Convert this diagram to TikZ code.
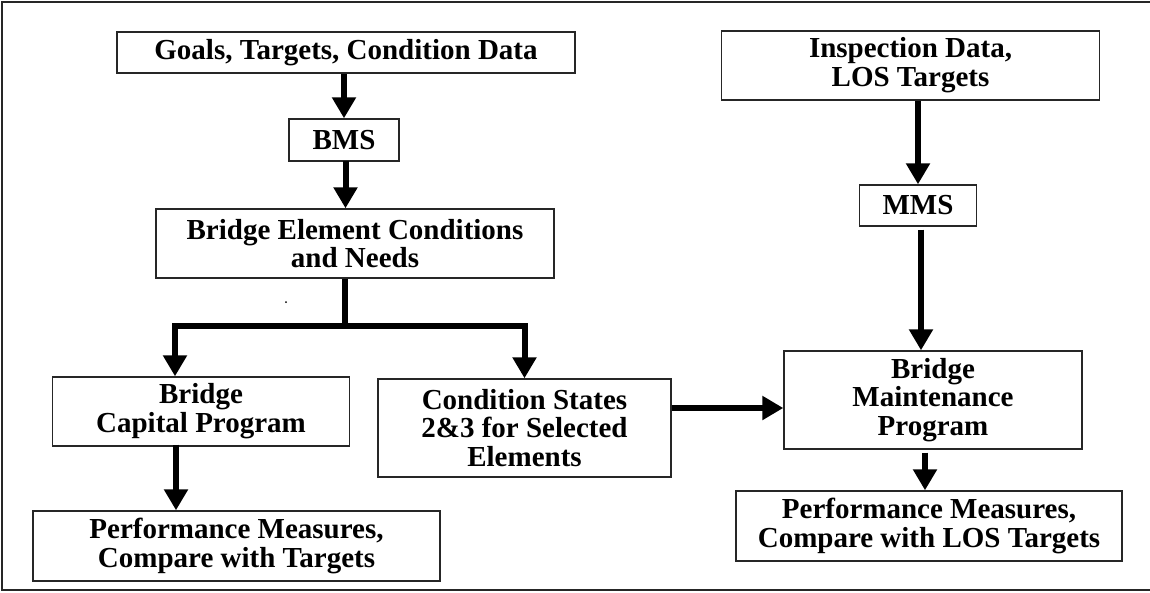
\documentclass[tikz,border=0pt]{standalone}
\usepackage{fontspec}
\setmainfont{Liberation Serif}
\usetikzlibrary{arrows.meta}
\begin{document}
\begin{tikzpicture}[x=1pt,y=-1pt,
  box/.style={draw=black!85, line width=1.4pt, inner sep=0pt, align=center,
    font=\fontsize{29}{28.8}\selectfont\bfseries},
  arr/.style={line width=6pt, -{Triangle[width=23pt,length=21pt]}},
  thickline/.style={line width=6pt}]
\useasboundingbox (0,0) rectangle (1150,592);
\draw[line width=2pt, black!85] (1150,1.5) -- (2,1.5) -- (2,590) -- (1150,590);

\node[box, minimum width=458pt, minimum height=41pt] (goals) at (346,52.5) {Goals, Targets, Condition Data};
\node[box, minimum width=110pt, minimum height=42pt] (bms) at (344,140) {BMS};
\node[box, minimum width=398pt, minimum height=69pt] (bec) at (355,243.5) {Bridge Element Conditions\\and Needs};
\node[box, minimum width=297pt, minimum height=69pt] (bcp) at (201,411.5) {Bridge\\Capital Program};
\node[box, minimum width=293pt, minimum height=98pt] (cs) at (524.5,428) {Condition States\\2\&3 for Selected\\Elements};
\node[box, minimum width=407pt, minimum height=70pt] (pml) at (236.5,546) {Performance Measures,\\Compare with Targets};
\node[box, minimum width=378pt, minimum height=69pt] (insp) at (910.5,65.5) {Inspection Data,\\LOS Targets};
\node[box, minimum width=117pt, minimum height=41pt] (mms) at (918,205.5) {MMS};
\node[box, minimum width=298pt, minimum height=98pt] (bmp) at (933,400) {Bridge\\Maintenance\\Program};
\node[box, minimum width=386pt, minimum height=70pt] (pmr) at (929,526) {Performance Measures,\\Compare with LOS Targets};

\draw[arr] (bms.north |- goals.south) -- (bms.north);
\draw[arr, shorten <=-1pt] ([xshift=1.5pt]bms.south) -- ([xshift=1.5pt]bms.south |- bec.north);
\coordinate (j) at (344.5,326);
\draw[thickline] (j |- bec.south) -- (j);
\draw[arr] (j) -| ([xshift=-26pt]bcp.north);
\draw[arr] (j) -| (cs.north);
\draw[arr, shorten <=-2pt] ([xshift=-25pt]bcp.south) -- ([xshift=-25pt]bcp.south |- pml.north);
\draw[arr] (mms.north |- insp.south) -- (mms.north);
\draw[arr, shorten <=3pt] ([xshift=3pt]mms.south) -- ([xshift=3pt]mms.south |- bmp.north);
\coordinate (h) at ([yshift=-8pt]bmp.west);
\draw[arr] (cs.east |- h) -- (h);
\draw[arr, shorten <=3pt] ([xshift=-8pt]bmp.south) -- ([xshift=-8pt]bmp.south |- pmr.north);
\fill (286,302) circle (1pt);
\end{tikzpicture}
\end{document}
